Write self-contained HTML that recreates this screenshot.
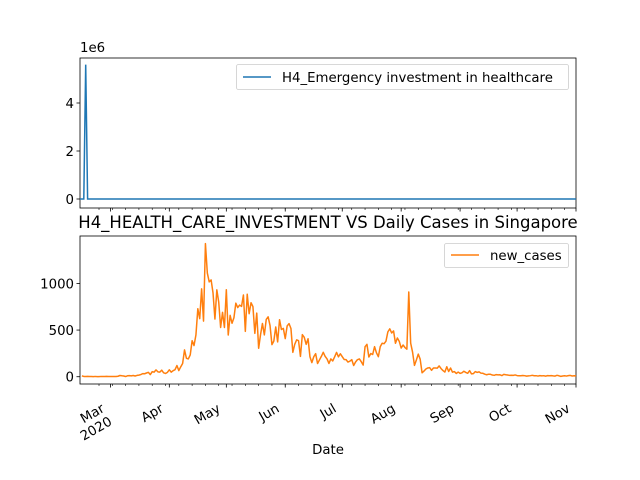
<!DOCTYPE html>
<html><head><meta charset="utf-8"><style>
body{margin:0;background:#fff;}
svg{display:block;font-family:"DejaVu Sans","Liberation Sans",sans-serif;}
</style></head><body>
<svg id="chart" width="640" height="480" xmlns="http://www.w3.org/2000/svg"></svg>
<script>
// Day index 0 = 2020-02-14; axis spans to index 261 (2020-11-01)
const casesStartDay = 1; // 2020-02-15
const monthTickDays = [16, 47, 77, 108, 138, 169, 200, 230, 261];
const monthTickLabels = ["Mar", "Apr", "May", "Jun", "Jul", "Aug", "Sep", "Oct", "Nov"];
const firstMondayDay = 10;
const h4Days = [0, 1, 2, 3, 4, 261];
const h4Values = [0, 0, 0, 5600000, 0, 0];
const casesFeb = [9,3,3,4,3,2,1,3,1,1,3,2,2,4,3];
const casesMar = [2,2,2,2,5,13,10,8,2,10,12,9,13,8,14,17,23,33,32,40,47,23,54,49,73,52,49,70,42,35,47];
const casesApr = [74,49,65,75,120,66,106,142,287,198,191,233,386,334,447,728,623,942,596,1426,1111,1016,1037,897,618,931,799,528,690,528];
const casesMay = [932,447,657,573,632,788,741,768,753,876,486,884,675,793,752,465,682,305,451,570,448,614,642,548,344,383,533,373,611,506,518];
const casesJun = [408,544,569,517,261,347,395,386,218,451,422,347,407,214,151,214,247,142,180,218,262,218,191,142,191,169,213,260,213,246];
const casesJul = [215,185,183,157,166,183,120,158,183,191,161,125,322,347,211,248,238,322,256,215,322,359,354,381,481,513,469,491,359,415,379];
const casesAug = [307,340,313,295,908,360,263,121,179,242,188,42,60,83,94,97,69,93,94,92,116,87,66,50,107,56,93,49,55,35,50];
const casesSep = [36,42,59,46,37,65,30,33,55,46,52,38,37,27,21,27,26,18,15,23,20,21,12,25,21,18,15,16,14,19];
const casesOct = [12,11,10,13,11,6,9,11,15,10,11,7,12,9,11,6,12,10,12,9,7,15,10,4,8,10,7,12,14,8,10];
const casesNov = [9];
const h4Ticks = [0, 2000000, 4000000];
const h4TickLabels = ["0", "2", "4"];
const caseTicks = [0, 500, 1000];
const caseTickLabels = ["0", "500", "1000"];

const cases = [].concat(casesFeb,casesMar,casesApr,casesMay,casesJun,casesJul,casesAug,casesSep,casesOct,casesNov);
const NS = "http://www.w3.org/2000/svg";
const svg = document.getElementById("chart");
function mk(tag, attrs, parent){const e=document.createElementNS(NS,tag);for(const k in attrs)e.setAttribute(k,attrs[k]);(parent||svg).appendChild(e);return e;}

const L=80, R=576, nDays=261;
const xs = d => L + d*(R-L)/nDays;
const top1=58, bot1=208, y1min=-375000, y1max=5875000;
const ys1 = v => bot1 - (v-y1min)/(y1max-y1min)*(bot1-top1);
const top2=236, bot2=384, y2min=-78, y2max=1508;
const ys2 = v => bot2 - (v-y2min)/(y2max-y2min)*(bot2-top2);

function frame(t,b,name){
  const r=mk("rect",{x:L,y:t,width:R-L,height:b-t,fill:"none",stroke:"#000","stroke-width":0.8});
  
  
}
function xTicks(b, withLabels, gname){
  const g=mk("g",{});
  
  
  for(let d=firstMondayDay; d<=nDays; d+=7){ mk("line",{x1:xs(d),x2:xs(d),y1:b,y2:b+2,stroke:"#000","stroke-width":0.6},g); }
  monthTickDays.forEach((d,i)=>{
    mk("line",{x1:xs(d),x2:xs(d),y1:b,y2:b+3.5,stroke:"#000","stroke-width":0.8},g);
    if(withLabels){
      const x=xs(d)-5, y=b+27;
      const t=mk("text",{x:x,y:y,"text-anchor":"end","font-size":"13.3",transform:`rotate(-30 ${x} ${y})`},g);
      t.textContent=monthTickLabels[i];
      
      
      if(i===0){
        const t2=mk("text",{x:x,y:y+15,"text-anchor":"end","font-size":"13.3",transform:`rotate(-30 ${x} ${y})`},g);
        t2.textContent="2020";
        
        
      }
    }
  });
}
function yTicks(ticks,labels,ys,gname){
  const g=mk("g",{});
  
  
  ticks.forEach((v,i)=>{
    const y=ys(v);
    mk("line",{x1:L-3.5,x2:L,y1:y,y2:y,stroke:"#000","stroke-width":0.8},g);
    const t=mk("text",{x:L-6,y:y+5,"text-anchor":"end","font-size":"13.3"},g);
    t.textContent=labels[i];
  });
}

// Top subplot
frame(top1,bot1,"top-axes-frame");
xTicks(bot1,false,"top-x-ticks");
yTicks(h4Ticks,h4TickLabels,ys1,"top-y-ticks");
const e6=mk("text",{x:L,y:52,"font-size":"13.3"}); e6.textContent="1e6";


let p1="";
h4Days.forEach((d,i)=>{p1+=(i?"L":"M")+xs(d).toFixed(2)+" "+ys1(h4Values[i]).toFixed(2);});
const l1=mk("path",{d:p1,fill:"none",stroke:"#1f77b4","stroke-width":1.5});



const lg1=mk("g",{});


mk("rect",{x:236.5,y:64.5,width:332,height:25,rx:2,fill:"#fff",stroke:"#ccc","stroke-width":0.8},lg1);
mk("line",{x1:243,x2:271,y1:77,y2:77,stroke:"#1f77b4","stroke-width":1.5},lg1);
const lt1=mk("text",{x:282,y:82,"font-size":"13.3"},lg1); lt1.textContent="H4_Emergency investment in healthcare";

// Bottom subplot
frame(top2,bot2,"bottom-axes-frame");
xTicks(bot2,true,"bottom-x-ticks");
yTicks(caseTicks,caseTickLabels,ys2,"bottom-y-ticks");
let p2="";
cases.forEach((v,i)=>{const d=casesStartDay+i; if(d<=nDays) p2+=(i?"L":"M")+xs(d).toFixed(2)+" "+ys2(v).toFixed(2);});
const l2=mk("path",{d:p2,fill:"none",stroke:"#ff7f0e","stroke-width":1.5,"stroke-linejoin":"round"});



const lg2=mk("g",{});


mk("rect",{x:444.5,y:243.5,width:124,height:24,rx:2,fill:"#fff",stroke:"#ccc","stroke-width":0.8},lg2);
mk("line",{x1:451,x2:479,y1:255,y2:255,stroke:"#ff7f0e","stroke-width":1.5},lg2);
const lt2=mk("text",{x:490,y:260,"font-size":"13.3"},lg2); lt2.textContent="new_cases";

const title=mk("text",{x:328,y:228,"text-anchor":"middle","font-size":"16.5"});
title.textContent="H4_HEALTH_CARE_INVESTMENT VS Daily Cases in Singapore";


const xt=mk("text",{x:328,y:454,"text-anchor":"middle","font-size":"13.3"});
xt.textContent="Date";


</script>
</body></html>
